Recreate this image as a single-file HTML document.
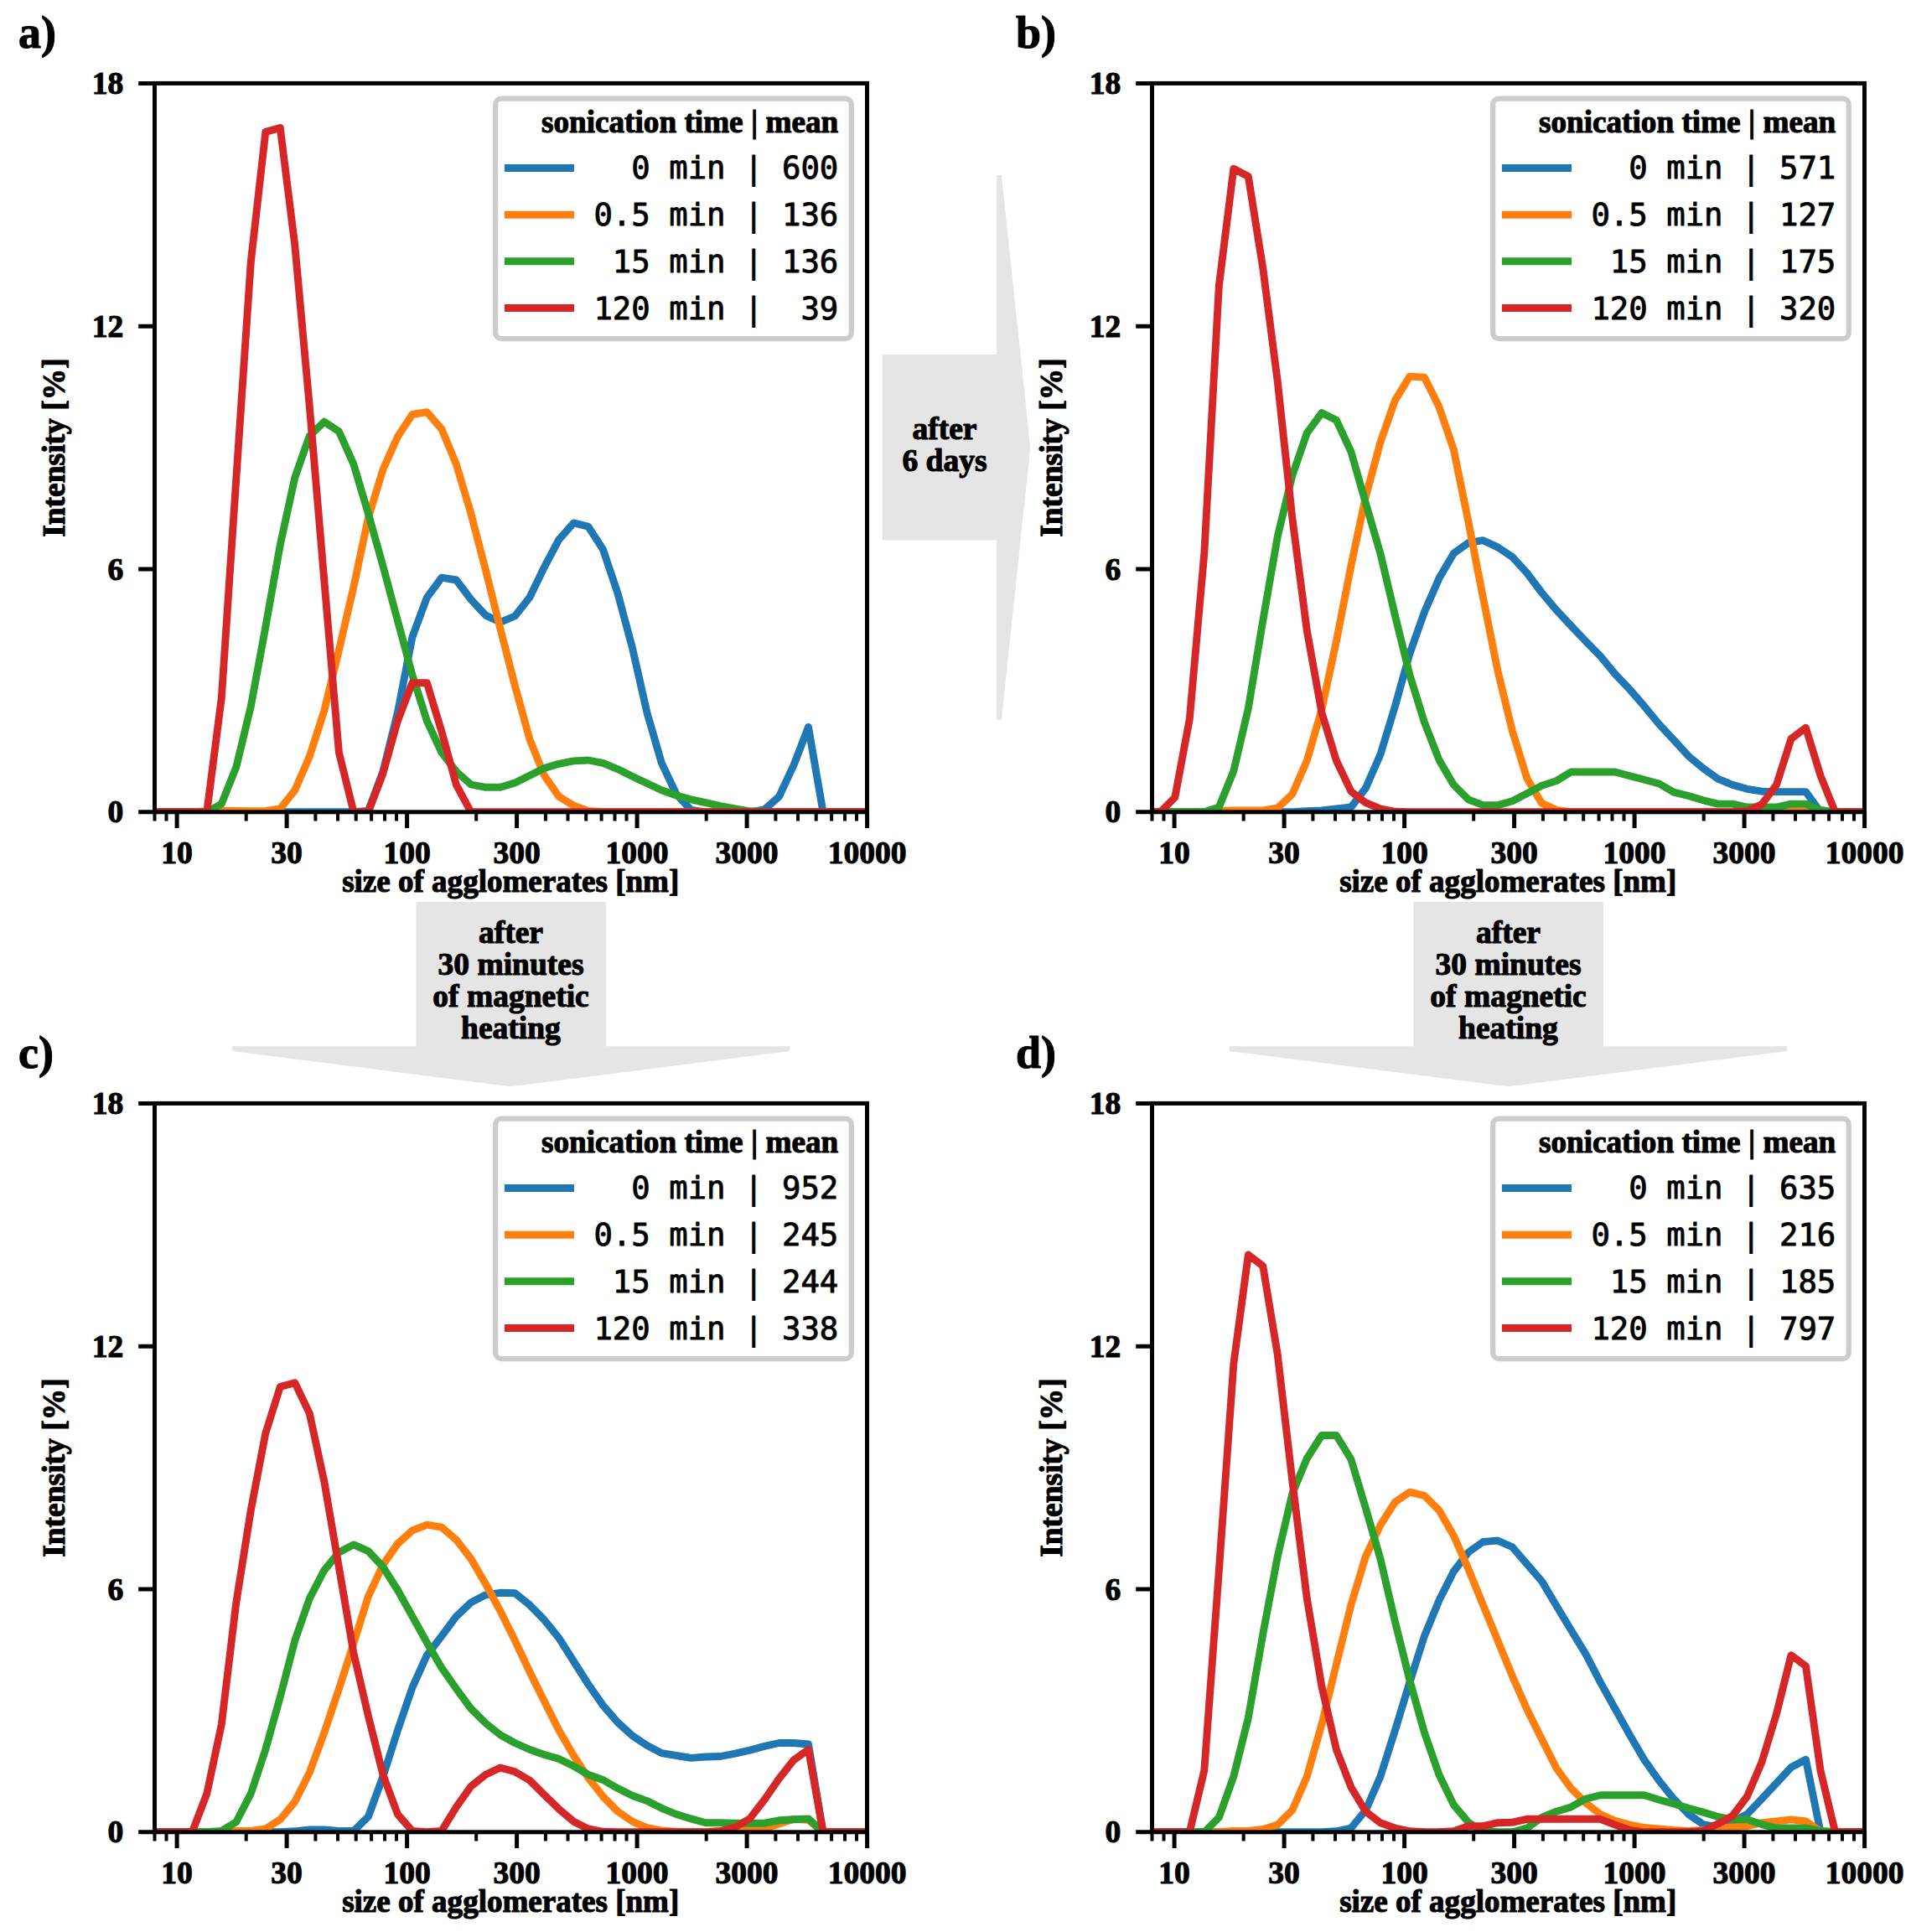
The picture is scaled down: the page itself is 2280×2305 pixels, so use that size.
<!DOCTYPE html>
<html><head><meta charset="utf-8"><title>DLS size distributions</title>
<style>html,body{margin:0;padding:0;background:#fff}svg{display:block}</style></head>
<body>
<svg width="2280" height="2305" viewBox="0 0 2280 2305">
<rect width="2280" height="2305" fill="#fff"/>
<rect x="1052.8" y="423" width="137" height="221.6" fill="#e5e5e5"/>
<polygon points="1189.1,208.9 1194.9,208.9 1229.3,534 1194.9,859 1189.1,859" fill="#e5e5e5"/>
<rect x="496.3" y="1076" width="226.6" height="173" fill="#e5e5e5"/>
<polygon points="276.8,1248.2 942.2,1248.2 942.2,1254 609.5,1296.3 276.8,1254" fill="#e5e5e5"/>
<g font-family="Liberation Serif, serif" font-weight="bold" stroke="#000" stroke-width="1.1" stroke-linejoin="round" font-size="37.5" fill="#000" text-anchor="middle">
<text x="609.5" y="1125.0">after</text>
<text x="609.5" y="1163.0">30 minutes</text>
<text x="609.5" y="1200.9">of magnetic</text>
<text x="609.5" y="1238.8">heating</text>
</g>
<rect x="1686.3" y="1076" width="226.6" height="173" fill="#e5e5e5"/>
<polygon points="1466.8,1248.2 2132.2,1248.2 2132.2,1254 1799.5,1296.3 1466.8,1254" fill="#e5e5e5"/>
<g font-family="Liberation Serif, serif" font-weight="bold" stroke="#000" stroke-width="1.1" stroke-linejoin="round" font-size="37.5" fill="#000" text-anchor="middle">
<text x="1799.5" y="1125.0">after</text>
<text x="1799.5" y="1163.0">30 minutes</text>
<text x="1799.5" y="1200.9">of magnetic</text>
<text x="1799.5" y="1238.8">heating</text>
</g>
<g font-family="Liberation Serif, serif" font-weight="bold" stroke="#000" stroke-width="1.1" stroke-linejoin="round" font-size="37.5" fill="#000" text-anchor="middle"><text x="1127" y="524">after</text><text x="1127" y="562">6 days</text></g>
<clipPath id="clipa"><rect x="184.5" y="99.4" width="850.0" height="869.4"/></clipPath>
<g clip-path="url(#clipa)" fill="none" stroke-width="8.9" stroke-linejoin="round" stroke-linecap="butt">
<polyline stroke="#1f77b4" points="159.3,968.8 176.8,968.8 194.3,968.8 211.8,968.8 229.3,968.8 246.8,968.8 264.3,968.8 281.8,968.8 299.3,968.8 316.8,968.8 334.3,968.8 351.8,968.8 369.3,968.8 386.9,968.8 404.4,968.8 421.9,968.8 439.4,967.4 456.9,920.5 474.4,850.0 491.9,760.1 509.4,712.8 526.9,689.1 544.4,692.0 561.9,715.2 579.4,734.1 596.9,742.3 614.4,735.0 631.9,712.8 649.4,676.6 666.9,643.7 684.4,623.9 701.9,628.3 719.4,655.3 736.9,707.5 754.4,772.7 771.9,850.0 789.4,910.4 806.9,947.5 824.5,966.4 842.0,968.8 859.5,968.8 877.0,968.8 894.5,968.8 912.0,965.9 929.5,950.4 947.0,912.8 964.5,867.4 982.0,968.8 999.5,968.8 1017.0,968.8 1034.5,968.8"/>
<polyline stroke="#ff7f0e" points="159.3,968.8 176.8,968.8 194.3,968.8 211.8,968.8 229.3,968.8 246.8,967.8 264.3,967.4 281.8,967.4 299.3,967.8 316.8,967.4 334.3,964.9 351.8,942.7 369.3,902.6 386.9,847.6 404.4,775.6 421.9,700.3 439.4,617.7 456.9,560.2 474.4,521.1 491.9,494.5 509.4,491.6 526.9,511.9 544.4,553.9 561.9,612.8 579.4,680.0 596.9,750.0 614.4,818.1 631.9,881.9 649.4,925.3 666.9,950.4 684.4,961.1 701.9,967.4 719.4,968.8 736.9,968.8 754.4,968.8 771.9,968.8 789.4,968.8 806.9,968.8 824.5,968.8 842.0,968.8 859.5,968.8 877.0,968.8 894.5,968.8 912.0,968.8 929.5,968.8 947.0,968.8 964.5,968.8 982.0,968.8 999.5,968.8 1017.0,968.8 1034.5,968.8"/>
<polyline stroke="#2ca02c" points="159.3,968.8 176.8,968.8 194.3,968.8 211.8,968.8 229.3,968.8 246.8,968.8 264.3,959.1 281.8,915.2 299.3,842.7 316.8,748.1 334.3,650.0 351.8,569.8 369.3,520.1 386.9,503.2 404.4,514.8 421.9,553.9 439.4,612.8 456.9,675.1 474.4,740.3 491.9,805.1 509.4,860.1 526.9,897.8 544.4,920.5 561.9,936.0 579.4,939.3 596.9,939.3 614.4,934.0 631.9,925.3 649.4,916.6 666.9,911.3 684.4,907.9 701.9,907.0 719.4,910.4 736.9,917.6 754.4,926.3 771.9,934.5 789.4,942.7 806.9,949.0 824.5,953.8 842.0,957.7 859.5,961.6 877.0,964.9 894.5,967.8 912.0,968.8 929.5,968.8 947.0,968.8 964.5,968.8 982.0,968.8 999.5,968.8 1017.0,968.8 1034.5,968.8"/>
<polyline stroke="#d62728" points="159.3,968.8 176.8,968.8 194.3,968.8 211.8,968.8 229.3,968.8 246.8,968.8 264.3,832.6 281.8,571.3 299.3,312.4 316.8,157.4 334.3,152.5 351.8,292.6 369.3,484.8 386.9,693.5 404.4,897.8 421.9,968.8 439.4,968.8 456.9,922.9 474.4,860.1 491.9,814.7 509.4,814.7 526.9,872.7 544.4,936.4 561.9,968.8 579.4,968.8 596.9,968.8 614.4,968.8 631.9,968.8 649.4,968.8 666.9,968.8 684.4,968.8 701.9,968.8 719.4,968.8 736.9,968.8 754.4,968.8 771.9,968.8 789.4,968.8 806.9,968.8 824.5,968.8 842.0,968.8 859.5,968.8 877.0,968.8 894.5,968.8 912.0,968.8 929.5,968.8 947.0,968.8 964.5,968.8 982.0,968.8 999.5,968.8 1017.0,968.8 1034.5,968.8"/>
</g>
<rect x="184.5" y="99.4" width="850.0" height="869.4" fill="none" stroke="#000" stroke-width="5.0"/>
<path d="M184.5,968.8h-19.3M184.5,679.0h-19.3M184.5,389.2h-19.3M184.5,99.4h-19.3M211.1,968.8v19.2M342.1,968.8v19.2M485.6,968.8v19.2M616.6,968.8v19.2M760.1,968.8v19.2M891.1,968.8v19.2M1034.6,968.8v19.2" stroke="#000" stroke-width="5.0" fill="none"/>
<path d="M184.5,968.8v10.8M198.5,968.8v10.8M293.7,968.8v10.8M376.4,968.8v10.8M403.0,968.8v10.8M424.7,968.8v10.8M443.1,968.8v10.8M459.0,968.8v10.8M473.0,968.8v10.8M568.2,968.8v10.8M650.9,968.8v10.8M677.5,968.8v10.8M699.2,968.8v10.8M717.6,968.8v10.8M733.5,968.8v10.8M747.5,968.8v10.8M842.7,968.8v10.8M925.4,968.8v10.8M952.0,968.8v10.8M973.7,968.8v10.8M992.1,968.8v10.8M1008.0,968.8v10.8M1022.0,968.8v10.8" stroke="#000" stroke-width="4.0" fill="none"/>
<g font-family="Liberation Serif, serif" font-weight="bold" stroke="#000" stroke-width="1.1" stroke-linejoin="round" font-size="37.5" fill="#000">
<text x="147.3" y="981.4" text-anchor="end">0</text>
<text x="147.3" y="691.6" text-anchor="end">6</text>
<text x="147.3" y="401.8" text-anchor="end">12</text>
<text x="147.3" y="112.0" text-anchor="end">18</text>
<text x="211.1" y="1030.2" text-anchor="middle">10</text>
<text x="342.1" y="1030.2" text-anchor="middle">30</text>
<text x="485.6" y="1030.2" text-anchor="middle">100</text>
<text x="616.6" y="1030.2" text-anchor="middle">300</text>
<text x="760.1" y="1030.2" text-anchor="middle">1000</text>
<text x="891.1" y="1030.2" text-anchor="middle">3000</text>
<text x="1034.6" y="1030.2" text-anchor="middle">10000</text>
<text transform="translate(609.2,1064.0) scale(0.988,1)" text-anchor="middle">size of agglomerates [nm]</text>
<text transform="translate(77.2,534.1) rotate(-90)" text-anchor="middle">Intensity [%]</text>
</g>
<text x="22.0" y="56.5" font-family="Liberation Serif, serif" font-weight="bold" stroke="#000" stroke-width="1.1" stroke-linejoin="round" font-size="54" fill="#000">a)</text>
<rect x="591.2" y="117.7" width="424.6" height="286.4" rx="7" ry="7" fill="#fff" fill-opacity="0.8" stroke="#ccc" stroke-width="6.2"/>
<text transform="translate(1000.2,157.8) scale(0.992,1)" text-anchor="end" font-family="Liberation Serif, serif" font-weight="bold" stroke="#000" stroke-width="1.1" stroke-linejoin="round" font-size="37.5" fill="#000">sonication time | mean</text>
<path d="M601.9,200.6H685.0" stroke="#1f77b4" stroke-width="9" fill="none"/>
<text transform="translate(1000.3,213.1) scale(0.995,1)" text-anchor="end" xml:space="preserve" font-family="DejaVu Sans Mono, Liberation Mono, monospace" stroke="#000" stroke-width="0.9" stroke-linejoin="round" font-size="37.5" fill="#000">  0 min | 600</text>
<path d="M601.9,256.2H685.0" stroke="#ff7f0e" stroke-width="9" fill="none"/>
<text transform="translate(1000.3,269.0) scale(0.995,1)" text-anchor="end" xml:space="preserve" font-family="DejaVu Sans Mono, Liberation Mono, monospace" stroke="#000" stroke-width="0.9" stroke-linejoin="round" font-size="37.5" fill="#000">0.5 min | 136</text>
<path d="M601.9,311.8H685.0" stroke="#2ca02c" stroke-width="9" fill="none"/>
<text transform="translate(1000.3,324.9) scale(0.995,1)" text-anchor="end" xml:space="preserve" font-family="DejaVu Sans Mono, Liberation Mono, monospace" stroke="#000" stroke-width="0.9" stroke-linejoin="round" font-size="37.5" fill="#000"> 15 min | 136</text>
<path d="M601.9,367.4H685.0" stroke="#d62728" stroke-width="9" fill="none"/>
<text transform="translate(1000.3,380.8) scale(0.995,1)" text-anchor="end" xml:space="preserve" font-family="DejaVu Sans Mono, Liberation Mono, monospace" stroke="#000" stroke-width="0.9" stroke-linejoin="round" font-size="37.5" fill="#000">120 min |  39</text>
<clipPath id="clipb"><rect x="1374.5" y="99.4" width="850.0" height="869.4"/></clipPath>
<g clip-path="url(#clipb)" fill="none" stroke-width="8.9" stroke-linejoin="round" stroke-linecap="butt">
<polyline stroke="#1f77b4" points="1349.3,968.8 1366.8,968.8 1384.3,968.8 1401.8,968.8 1419.3,968.8 1436.8,968.8 1454.3,968.8 1471.8,968.8 1489.3,968.8 1506.8,968.8 1524.3,968.8 1541.8,968.8 1559.3,967.8 1576.9,966.9 1594.4,964.9 1611.9,963.0 1629.4,940.3 1646.9,900.2 1664.4,842.7 1681.9,779.9 1699.4,730.2 1716.9,690.1 1734.4,660.2 1751.9,647.6 1769.4,644.7 1786.9,652.9 1804.4,664.5 1821.9,683.8 1839.4,707.0 1856.9,727.8 1874.4,746.6 1891.9,765.0 1909.4,782.8 1926.9,804.1 1944.4,822.5 1961.9,842.7 1979.4,864.0 1996.9,882.8 2014.5,902.1 2032.0,916.6 2049.5,929.2 2067.0,936.4 2084.5,941.3 2102.0,944.2 2119.5,944.6 2137.0,944.6 2154.5,944.6 2172.0,968.8 2189.5,968.8 2207.0,968.8 2224.5,968.8"/>
<polyline stroke="#ff7f0e" points="1349.3,968.8 1366.8,968.8 1384.3,968.8 1401.8,968.8 1419.3,968.8 1436.8,968.8 1454.3,967.4 1471.8,966.9 1489.3,966.9 1506.8,966.9 1524.3,964.0 1541.8,947.5 1559.3,907.5 1576.9,846.6 1594.4,765.0 1611.9,675.1 1629.4,592.5 1646.9,527.8 1664.4,477.6 1681.9,449.1 1699.4,450.1 1716.9,485.3 1734.4,536.5 1751.9,622.5 1769.4,712.8 1786.9,800.2 1804.4,872.2 1821.9,928.7 1839.4,958.2 1856.9,966.4 1874.4,968.8 1891.9,968.8 1909.4,968.8 1926.9,968.8 1944.4,968.8 1961.9,968.8 1979.4,968.8 1996.9,968.8 2014.5,968.8 2032.0,968.8 2049.5,968.8 2067.0,968.8 2084.5,968.8 2102.0,968.8 2119.5,968.8 2137.0,965.9 2154.5,965.9 2172.0,968.8 2189.5,968.8 2207.0,968.8 2224.5,968.8"/>
<polyline stroke="#2ca02c" points="1349.3,968.8 1366.8,968.8 1384.3,968.8 1401.8,968.8 1419.3,968.8 1436.8,968.8 1454.3,963.0 1471.8,920.0 1489.3,845.2 1506.8,740.3 1524.3,639.9 1541.8,567.4 1559.3,516.7 1576.9,492.6 1594.4,501.3 1611.9,538.9 1629.4,600.3 1646.9,660.2 1664.4,734.1 1681.9,805.1 1699.4,861.6 1716.9,906.5 1734.4,936.4 1751.9,953.8 1769.4,960.6 1786.9,960.6 1804.4,955.8 1821.9,946.6 1839.4,937.4 1856.9,931.6 1874.4,921.0 1891.9,921.0 1909.4,921.0 1926.9,921.0 1944.4,925.8 1961.9,930.2 1979.4,935.0 1996.9,945.1 2014.5,949.5 2032.0,954.8 2049.5,959.1 2067.0,959.1 2084.5,963.0 2102.0,963.0 2119.5,963.0 2137.0,959.1 2154.5,959.1 2172.0,966.4 2189.5,968.8 2207.0,968.8 2224.5,968.8"/>
<polyline stroke="#d62728" points="1349.3,968.8 1366.8,968.8 1384.3,968.8 1401.8,951.4 1419.3,857.7 1436.8,660.2 1454.3,341.4 1471.8,201.3 1489.3,210.5 1506.8,320.1 1524.3,455.4 1541.8,617.7 1559.3,752.4 1576.9,850.0 1594.4,907.5 1611.9,944.2 1629.4,957.7 1646.9,964.9 1664.4,968.3 1681.9,968.8 1699.4,968.8 1716.9,968.8 1734.4,968.8 1751.9,968.8 1769.4,968.8 1786.9,968.8 1804.4,968.8 1821.9,968.8 1839.4,968.8 1856.9,968.8 1874.4,968.8 1891.9,968.8 1909.4,968.8 1926.9,968.8 1944.4,968.8 1961.9,968.8 1979.4,968.8 1996.9,968.8 2014.5,968.8 2032.0,968.8 2049.5,968.8 2067.0,968.8 2084.5,967.8 2102.0,959.6 2119.5,936.4 2137.0,881.4 2154.5,868.3 2172.0,925.3 2189.5,968.8 2207.0,968.8 2224.5,968.8"/>
</g>
<rect x="1374.5" y="99.4" width="850.0" height="869.4" fill="none" stroke="#000" stroke-width="5.0"/>
<path d="M1374.5,968.8h-19.3M1374.5,679.0h-19.3M1374.5,389.2h-19.3M1374.5,99.4h-19.3M1401.1,968.8v19.2M1532.1,968.8v19.2M1675.6,968.8v19.2M1806.6,968.8v19.2M1950.1,968.8v19.2M2081.1,968.8v19.2M2224.6,968.8v19.2" stroke="#000" stroke-width="5.0" fill="none"/>
<path d="M1374.5,968.8v10.8M1388.5,968.8v10.8M1483.7,968.8v10.8M1566.4,968.8v10.8M1593.0,968.8v10.8M1614.7,968.8v10.8M1633.1,968.8v10.8M1649.0,968.8v10.8M1663.0,968.8v10.8M1758.2,968.8v10.8M1840.9,968.8v10.8M1867.5,968.8v10.8M1889.2,968.8v10.8M1907.6,968.8v10.8M1923.5,968.8v10.8M1937.5,968.8v10.8M2032.7,968.8v10.8M2115.4,968.8v10.8M2142.0,968.8v10.8M2163.7,968.8v10.8M2182.1,968.8v10.8M2198.0,968.8v10.8M2212.0,968.8v10.8" stroke="#000" stroke-width="4.0" fill="none"/>
<g font-family="Liberation Serif, serif" font-weight="bold" stroke="#000" stroke-width="1.1" stroke-linejoin="round" font-size="37.5" fill="#000">
<text x="1337.3" y="981.4" text-anchor="end">0</text>
<text x="1337.3" y="691.6" text-anchor="end">6</text>
<text x="1337.3" y="401.8" text-anchor="end">12</text>
<text x="1337.3" y="112.0" text-anchor="end">18</text>
<text x="1401.1" y="1030.2" text-anchor="middle">10</text>
<text x="1532.1" y="1030.2" text-anchor="middle">30</text>
<text x="1675.6" y="1030.2" text-anchor="middle">100</text>
<text x="1806.6" y="1030.2" text-anchor="middle">300</text>
<text x="1950.1" y="1030.2" text-anchor="middle">1000</text>
<text x="2081.1" y="1030.2" text-anchor="middle">3000</text>
<text x="2224.6" y="1030.2" text-anchor="middle">10000</text>
<text transform="translate(1799.2,1064.0) scale(0.988,1)" text-anchor="middle">size of agglomerates [nm]</text>
<text transform="translate(1267.2,534.1) rotate(-90)" text-anchor="middle">Intensity [%]</text>
</g>
<text x="1212.0" y="56.5" font-family="Liberation Serif, serif" font-weight="bold" stroke="#000" stroke-width="1.1" stroke-linejoin="round" font-size="54" fill="#000">b)</text>
<rect x="1781.2" y="117.7" width="424.6" height="286.4" rx="7" ry="7" fill="#fff" fill-opacity="0.8" stroke="#ccc" stroke-width="6.2"/>
<text transform="translate(2190.2,157.8) scale(0.992,1)" text-anchor="end" font-family="Liberation Serif, serif" font-weight="bold" stroke="#000" stroke-width="1.1" stroke-linejoin="round" font-size="37.5" fill="#000">sonication time | mean</text>
<path d="M1791.9,200.6H1875.0" stroke="#1f77b4" stroke-width="9" fill="none"/>
<text transform="translate(2190.3,213.1) scale(0.995,1)" text-anchor="end" xml:space="preserve" font-family="DejaVu Sans Mono, Liberation Mono, monospace" stroke="#000" stroke-width="0.9" stroke-linejoin="round" font-size="37.5" fill="#000">  0 min | 571</text>
<path d="M1791.9,256.2H1875.0" stroke="#ff7f0e" stroke-width="9" fill="none"/>
<text transform="translate(2190.3,269.0) scale(0.995,1)" text-anchor="end" xml:space="preserve" font-family="DejaVu Sans Mono, Liberation Mono, monospace" stroke="#000" stroke-width="0.9" stroke-linejoin="round" font-size="37.5" fill="#000">0.5 min | 127</text>
<path d="M1791.9,311.8H1875.0" stroke="#2ca02c" stroke-width="9" fill="none"/>
<text transform="translate(2190.3,324.9) scale(0.995,1)" text-anchor="end" xml:space="preserve" font-family="DejaVu Sans Mono, Liberation Mono, monospace" stroke="#000" stroke-width="0.9" stroke-linejoin="round" font-size="37.5" fill="#000"> 15 min | 175</text>
<path d="M1791.9,367.4H1875.0" stroke="#d62728" stroke-width="9" fill="none"/>
<text transform="translate(2190.3,380.8) scale(0.995,1)" text-anchor="end" xml:space="preserve" font-family="DejaVu Sans Mono, Liberation Mono, monospace" stroke="#000" stroke-width="0.9" stroke-linejoin="round" font-size="37.5" fill="#000">120 min | 320</text>
<clipPath id="clipc"><rect x="184.5" y="1316.4" width="850.0" height="869.4000000000001"/></clipPath>
<g clip-path="url(#clipc)" fill="none" stroke-width="8.9" stroke-linejoin="round" stroke-linecap="butt">
<polyline stroke="#1f77b4" points="159.3,2185.8 176.8,2185.8 194.3,2185.8 211.8,2185.8 229.3,2185.8 246.8,2185.8 264.3,2185.8 281.8,2185.8 299.3,2185.8 316.8,2185.8 334.3,2185.8 351.8,2184.8 369.3,2182.9 386.9,2182.9 404.4,2184.4 421.9,2184.4 439.4,2167.4 456.9,2119.6 474.4,2064.6 491.9,2013.4 509.4,1974.7 526.9,1952.0 544.4,1928.4 561.9,1911.9 579.4,1902.8 596.9,1900.3 614.4,1900.8 631.9,1914.8 649.4,1932.7 666.9,1954.4 684.4,1982.0 701.9,2009.5 719.4,2034.6 736.9,2054.9 754.4,2070.8 771.9,2082.4 789.4,2091.6 806.9,2094.5 824.5,2097.4 842.0,2096.0 859.5,2095.5 877.0,2092.1 894.5,2088.2 912.0,2083.4 929.5,2079.5 947.0,2079.5 964.5,2081.0 982.0,2185.8 999.5,2185.8 1017.0,2185.8 1034.5,2185.8"/>
<polyline stroke="#ff7f0e" points="159.3,2185.8 176.8,2185.8 194.3,2185.8 211.8,2185.8 229.3,2185.8 246.8,2185.8 264.3,2185.8 281.8,2184.4 299.3,2184.4 316.8,2181.9 334.3,2170.8 351.8,2149.6 369.3,2114.8 386.9,2067.0 404.4,2014.8 421.9,1960.7 439.4,1904.7 456.9,1867.0 474.4,1841.9 491.9,1826.0 509.4,1819.2 526.9,1822.1 544.4,1837.1 561.9,1859.8 579.4,1889.7 596.9,1922.1 614.4,1957.3 631.9,1994.5 649.4,2029.8 666.9,2064.6 684.4,2094.5 701.9,2121.1 719.4,2143.3 736.9,2161.2 754.4,2173.2 771.9,2180.5 789.4,2183.9 806.9,2185.3 824.5,2185.8 842.0,2185.8 859.5,2184.4 877.0,2183.4 894.5,2181.9 912.0,2181.0 929.5,2176.1 947.0,2170.3 964.5,2171.3 982.0,2185.8 999.5,2185.8 1017.0,2185.8 1034.5,2185.8"/>
<polyline stroke="#2ca02c" points="159.3,2185.8 176.8,2185.8 194.3,2185.8 211.8,2185.8 229.3,2185.8 246.8,2185.8 264.3,2184.4 281.8,2173.7 299.3,2139.9 316.8,2087.3 334.3,2024.5 351.8,1957.3 369.3,1907.1 386.9,1873.3 404.4,1852.0 421.9,1842.9 439.4,1850.6 456.9,1869.4 474.4,1897.0 491.9,1928.4 509.4,1959.8 526.9,1989.7 544.4,2014.8 561.9,2038.5 579.4,2055.9 596.9,2069.9 614.4,2079.5 631.9,2087.3 649.4,2093.5 666.9,2098.4 684.4,2107.1 701.9,2117.2 719.4,2123.5 736.9,2133.6 754.4,2142.3 771.9,2148.6 789.4,2157.3 806.9,2164.5 824.5,2169.9 842.0,2174.7 859.5,2174.7 877.0,2175.2 894.5,2175.2 912.0,2175.2 929.5,2171.8 947.0,2170.8 964.5,2169.9 982.0,2185.8 999.5,2185.8 1017.0,2185.8 1034.5,2185.8"/>
<polyline stroke="#d62728" points="159.3,2185.8 176.8,2185.8 194.3,2185.8 211.8,2185.8 229.3,2185.8 246.8,2139.9 264.3,2057.3 281.8,1911.9 299.3,1801.8 316.8,1710.0 334.3,1654.5 351.8,1649.7 369.3,1686.4 386.9,1768.0 404.4,1869.9 421.9,1972.3 439.4,2047.2 456.9,2117.2 474.4,2164.5 491.9,2184.4 509.4,2185.8 526.9,2184.4 544.4,2155.9 561.9,2131.2 579.4,2117.2 596.9,2109.0 614.4,2113.8 631.9,2124.0 649.4,2141.4 666.9,2158.3 684.4,2173.2 701.9,2181.9 719.4,2185.3 736.9,2185.8 754.4,2185.8 771.9,2185.8 789.4,2185.8 806.9,2185.8 824.5,2185.8 842.0,2185.8 859.5,2184.8 877.0,2180.0 894.5,2169.9 912.0,2147.2 929.5,2122.0 947.0,2099.8 964.5,2087.3 982.0,2185.8 999.5,2185.8 1017.0,2185.8 1034.5,2185.8"/>
</g>
<rect x="184.5" y="1316.4" width="850.0" height="869.4000000000001" fill="none" stroke="#000" stroke-width="5.0"/>
<path d="M184.5,2185.8h-19.3M184.5,1896.0h-19.3M184.5,1606.2h-19.3M184.5,1316.4h-19.3M211.1,2185.8v19.2M342.1,2185.8v19.2M485.6,2185.8v19.2M616.6,2185.8v19.2M760.1,2185.8v19.2M891.1,2185.8v19.2M1034.6,2185.8v19.2" stroke="#000" stroke-width="5.0" fill="none"/>
<path d="M184.5,2185.8v10.8M198.5,2185.8v10.8M293.7,2185.8v10.8M376.4,2185.8v10.8M403.0,2185.8v10.8M424.7,2185.8v10.8M443.1,2185.8v10.8M459.0,2185.8v10.8M473.0,2185.8v10.8M568.2,2185.8v10.8M650.9,2185.8v10.8M677.5,2185.8v10.8M699.2,2185.8v10.8M717.6,2185.8v10.8M733.5,2185.8v10.8M747.5,2185.8v10.8M842.7,2185.8v10.8M925.4,2185.8v10.8M952.0,2185.8v10.8M973.7,2185.8v10.8M992.1,2185.8v10.8M1008.0,2185.8v10.8M1022.0,2185.8v10.8" stroke="#000" stroke-width="4.0" fill="none"/>
<g font-family="Liberation Serif, serif" font-weight="bold" stroke="#000" stroke-width="1.1" stroke-linejoin="round" font-size="37.5" fill="#000">
<text x="147.3" y="2198.4" text-anchor="end">0</text>
<text x="147.3" y="1908.6" text-anchor="end">6</text>
<text x="147.3" y="1618.8" text-anchor="end">12</text>
<text x="147.3" y="1329.0" text-anchor="end">18</text>
<text x="211.1" y="2247.2" text-anchor="middle">10</text>
<text x="342.1" y="2247.2" text-anchor="middle">30</text>
<text x="485.6" y="2247.2" text-anchor="middle">100</text>
<text x="616.6" y="2247.2" text-anchor="middle">300</text>
<text x="760.1" y="2247.2" text-anchor="middle">1000</text>
<text x="891.1" y="2247.2" text-anchor="middle">3000</text>
<text x="1034.6" y="2247.2" text-anchor="middle">10000</text>
<text transform="translate(609.2,2281.0) scale(0.988,1)" text-anchor="middle">size of agglomerates [nm]</text>
<text transform="translate(77.2,1751.1) rotate(-90)" text-anchor="middle">Intensity [%]</text>
</g>
<text x="22.0" y="1273.5" font-family="Liberation Serif, serif" font-weight="bold" stroke="#000" stroke-width="1.1" stroke-linejoin="round" font-size="54" fill="#000">c)</text>
<rect x="591.2" y="1334.7" width="424.6" height="286.4" rx="7" ry="7" fill="#fff" fill-opacity="0.8" stroke="#ccc" stroke-width="6.2"/>
<text transform="translate(1000.2,1374.8) scale(0.992,1)" text-anchor="end" font-family="Liberation Serif, serif" font-weight="bold" stroke="#000" stroke-width="1.1" stroke-linejoin="round" font-size="37.5" fill="#000">sonication time | mean</text>
<path d="M601.9,1417.6H685.0" stroke="#1f77b4" stroke-width="9" fill="none"/>
<text transform="translate(1000.3,1430.1) scale(0.995,1)" text-anchor="end" xml:space="preserve" font-family="DejaVu Sans Mono, Liberation Mono, monospace" stroke="#000" stroke-width="0.9" stroke-linejoin="round" font-size="37.5" fill="#000">  0 min | 952</text>
<path d="M601.9,1473.2H685.0" stroke="#ff7f0e" stroke-width="9" fill="none"/>
<text transform="translate(1000.3,1486.0) scale(0.995,1)" text-anchor="end" xml:space="preserve" font-family="DejaVu Sans Mono, Liberation Mono, monospace" stroke="#000" stroke-width="0.9" stroke-linejoin="round" font-size="37.5" fill="#000">0.5 min | 245</text>
<path d="M601.9,1528.8H685.0" stroke="#2ca02c" stroke-width="9" fill="none"/>
<text transform="translate(1000.3,1541.9) scale(0.995,1)" text-anchor="end" xml:space="preserve" font-family="DejaVu Sans Mono, Liberation Mono, monospace" stroke="#000" stroke-width="0.9" stroke-linejoin="round" font-size="37.5" fill="#000"> 15 min | 244</text>
<path d="M601.9,1584.4H685.0" stroke="#d62728" stroke-width="9" fill="none"/>
<text transform="translate(1000.3,1597.8) scale(0.995,1)" text-anchor="end" xml:space="preserve" font-family="DejaVu Sans Mono, Liberation Mono, monospace" stroke="#000" stroke-width="0.9" stroke-linejoin="round" font-size="37.5" fill="#000">120 min | 338</text>
<clipPath id="clipd"><rect x="1374.5" y="1316.4" width="850.0" height="869.4000000000001"/></clipPath>
<g clip-path="url(#clipd)" fill="none" stroke-width="8.9" stroke-linejoin="round" stroke-linecap="butt">
<polyline stroke="#1f77b4" points="1349.3,2185.8 1366.8,2185.8 1384.3,2185.8 1401.8,2185.8 1419.3,2185.8 1436.8,2185.8 1454.3,2185.8 1471.8,2185.8 1489.3,2185.8 1506.8,2185.8 1524.3,2185.8 1541.8,2185.8 1559.3,2185.8 1576.9,2185.8 1594.4,2184.8 1611.9,2181.0 1629.4,2159.7 1646.9,2119.6 1664.4,2064.6 1681.9,2007.1 1699.4,1952.0 1716.9,1909.5 1734.4,1874.7 1751.9,1852.0 1769.4,1839.5 1786.9,1838.0 1804.4,1845.8 1821.9,1866.1 1839.4,1886.3 1856.9,1915.8 1874.4,1944.8 1891.9,1973.3 1909.4,2007.1 1926.9,2038.5 1944.4,2069.9 1961.9,2099.8 1979.4,2124.5 1996.9,2146.2 2014.5,2164.5 2032.0,2176.6 2049.5,2180.0 2067.0,2173.7 2084.5,2164.5 2102.0,2146.2 2119.5,2127.4 2137.0,2108.5 2154.5,2099.3 2172.0,2185.8 2189.5,2185.8 2207.0,2185.8 2224.5,2185.8"/>
<polyline stroke="#ff7f0e" points="1349.3,2185.8 1366.8,2185.8 1384.3,2185.8 1401.8,2185.8 1419.3,2185.8 1436.8,2185.8 1454.3,2185.8 1471.8,2184.4 1489.3,2184.4 1506.8,2182.4 1524.3,2177.1 1541.8,2159.7 1559.3,2119.6 1576.9,2057.3 1594.4,1985.8 1611.9,1914.8 1629.4,1856.9 1646.9,1819.7 1664.4,1792.2 1681.9,1780.1 1699.4,1784.4 1716.9,1801.8 1734.4,1832.2 1751.9,1871.9 1769.4,1914.8 1786.9,1957.3 1804.4,1999.8 1821.9,2039.5 1839.4,2074.7 1856.9,2109.5 1874.4,2133.6 1891.9,2151.0 1909.4,2164.5 1926.9,2172.3 1944.4,2177.1 1961.9,2180.5 1979.4,2181.9 1996.9,2183.4 2014.5,2184.4 2032.0,2183.4 2049.5,2181.0 2067.0,2180.0 2084.5,2178.6 2102.0,2174.7 2119.5,2172.8 2137.0,2170.8 2154.5,2172.8 2172.0,2184.8 2189.5,2185.8 2207.0,2185.8 2224.5,2185.8"/>
<polyline stroke="#2ca02c" points="1349.3,2185.8 1366.8,2185.8 1384.3,2185.8 1401.8,2185.8 1419.3,2185.8 1436.8,2185.8 1454.3,2168.4 1471.8,2119.6 1489.3,2049.6 1506.8,1949.6 1524.3,1856.9 1541.8,1782.0 1559.3,1740.0 1576.9,1712.5 1594.4,1712.5 1611.9,1741.0 1629.4,1799.4 1646.9,1859.8 1664.4,1934.6 1681.9,2004.7 1699.4,2067.0 1716.9,2117.2 1734.4,2153.4 1751.9,2174.2 1769.4,2184.8 1786.9,2185.8 1804.4,2185.8 1821.9,2181.0 1839.4,2168.4 1856.9,2161.2 1874.4,2155.9 1891.9,2146.2 1909.4,2141.8 1926.9,2141.8 1944.4,2141.8 1961.9,2141.8 1979.4,2147.2 1996.9,2152.0 2014.5,2157.3 2032.0,2162.1 2049.5,2167.4 2067.0,2170.8 2084.5,2170.8 2102.0,2176.6 2119.5,2181.0 2137.0,2181.0 2154.5,2181.0 2172.0,2184.4 2189.5,2185.8 2207.0,2185.8 2224.5,2185.8"/>
<polyline stroke="#d62728" points="1349.3,2185.8 1366.8,2185.8 1384.3,2185.8 1401.8,2185.8 1419.3,2185.8 1436.8,2112.4 1454.3,1874.7 1471.8,1627.5 1489.3,1497.0 1506.8,1510.6 1524.3,1616.3 1541.8,1766.6 1559.3,1907.1 1576.9,2011.9 1594.4,2087.3 1611.9,2132.2 1629.4,2161.2 1646.9,2174.7 1664.4,2181.0 1681.9,2184.8 1699.4,2185.8 1716.9,2185.8 1734.4,2184.8 1751.9,2178.6 1769.4,2178.6 1786.9,2174.7 1804.4,2174.2 1821.9,2170.3 1839.4,2170.3 1856.9,2170.3 1874.4,2170.3 1891.9,2170.3 1909.4,2170.3 1926.9,2177.1 1944.4,2183.4 1961.9,2185.8 1979.4,2185.8 1996.9,2185.8 2014.5,2185.8 2032.0,2184.4 2049.5,2176.1 2067.0,2166.5 2084.5,2143.3 2102.0,2102.2 2119.5,2044.8 2137.0,1974.7 2154.5,1987.8 2172.0,2112.4 2189.5,2185.8 2207.0,2185.8 2224.5,2185.8"/>
</g>
<rect x="1374.5" y="1316.4" width="850.0" height="869.4000000000001" fill="none" stroke="#000" stroke-width="5.0"/>
<path d="M1374.5,2185.8h-19.3M1374.5,1896.0h-19.3M1374.5,1606.2h-19.3M1374.5,1316.4h-19.3M1401.1,2185.8v19.2M1532.1,2185.8v19.2M1675.6,2185.8v19.2M1806.6,2185.8v19.2M1950.1,2185.8v19.2M2081.1,2185.8v19.2M2224.6,2185.8v19.2" stroke="#000" stroke-width="5.0" fill="none"/>
<path d="M1374.5,2185.8v10.8M1388.5,2185.8v10.8M1483.7,2185.8v10.8M1566.4,2185.8v10.8M1593.0,2185.8v10.8M1614.7,2185.8v10.8M1633.1,2185.8v10.8M1649.0,2185.8v10.8M1663.0,2185.8v10.8M1758.2,2185.8v10.8M1840.9,2185.8v10.8M1867.5,2185.8v10.8M1889.2,2185.8v10.8M1907.6,2185.8v10.8M1923.5,2185.8v10.8M1937.5,2185.8v10.8M2032.7,2185.8v10.8M2115.4,2185.8v10.8M2142.0,2185.8v10.8M2163.7,2185.8v10.8M2182.1,2185.8v10.8M2198.0,2185.8v10.8M2212.0,2185.8v10.8" stroke="#000" stroke-width="4.0" fill="none"/>
<g font-family="Liberation Serif, serif" font-weight="bold" stroke="#000" stroke-width="1.1" stroke-linejoin="round" font-size="37.5" fill="#000">
<text x="1337.3" y="2198.4" text-anchor="end">0</text>
<text x="1337.3" y="1908.6" text-anchor="end">6</text>
<text x="1337.3" y="1618.8" text-anchor="end">12</text>
<text x="1337.3" y="1329.0" text-anchor="end">18</text>
<text x="1401.1" y="2247.2" text-anchor="middle">10</text>
<text x="1532.1" y="2247.2" text-anchor="middle">30</text>
<text x="1675.6" y="2247.2" text-anchor="middle">100</text>
<text x="1806.6" y="2247.2" text-anchor="middle">300</text>
<text x="1950.1" y="2247.2" text-anchor="middle">1000</text>
<text x="2081.1" y="2247.2" text-anchor="middle">3000</text>
<text x="2224.6" y="2247.2" text-anchor="middle">10000</text>
<text transform="translate(1799.2,2281.0) scale(0.988,1)" text-anchor="middle">size of agglomerates [nm]</text>
<text transform="translate(1267.2,1751.1) rotate(-90)" text-anchor="middle">Intensity [%]</text>
</g>
<text x="1212.0" y="1273.5" font-family="Liberation Serif, serif" font-weight="bold" stroke="#000" stroke-width="1.1" stroke-linejoin="round" font-size="54" fill="#000">d)</text>
<rect x="1781.2" y="1334.7" width="424.6" height="286.4" rx="7" ry="7" fill="#fff" fill-opacity="0.8" stroke="#ccc" stroke-width="6.2"/>
<text transform="translate(2190.2,1374.8) scale(0.992,1)" text-anchor="end" font-family="Liberation Serif, serif" font-weight="bold" stroke="#000" stroke-width="1.1" stroke-linejoin="round" font-size="37.5" fill="#000">sonication time | mean</text>
<path d="M1791.9,1417.6H1875.0" stroke="#1f77b4" stroke-width="9" fill="none"/>
<text transform="translate(2190.3,1430.1) scale(0.995,1)" text-anchor="end" xml:space="preserve" font-family="DejaVu Sans Mono, Liberation Mono, monospace" stroke="#000" stroke-width="0.9" stroke-linejoin="round" font-size="37.5" fill="#000">  0 min | 635</text>
<path d="M1791.9,1473.2H1875.0" stroke="#ff7f0e" stroke-width="9" fill="none"/>
<text transform="translate(2190.3,1486.0) scale(0.995,1)" text-anchor="end" xml:space="preserve" font-family="DejaVu Sans Mono, Liberation Mono, monospace" stroke="#000" stroke-width="0.9" stroke-linejoin="round" font-size="37.5" fill="#000">0.5 min | 216</text>
<path d="M1791.9,1528.8H1875.0" stroke="#2ca02c" stroke-width="9" fill="none"/>
<text transform="translate(2190.3,1541.9) scale(0.995,1)" text-anchor="end" xml:space="preserve" font-family="DejaVu Sans Mono, Liberation Mono, monospace" stroke="#000" stroke-width="0.9" stroke-linejoin="round" font-size="37.5" fill="#000"> 15 min | 185</text>
<path d="M1791.9,1584.4H1875.0" stroke="#d62728" stroke-width="9" fill="none"/>
<text transform="translate(2190.3,1597.8) scale(0.995,1)" text-anchor="end" xml:space="preserve" font-family="DejaVu Sans Mono, Liberation Mono, monospace" stroke="#000" stroke-width="0.9" stroke-linejoin="round" font-size="37.5" fill="#000">120 min | 797</text>
</svg>
</body></html>
